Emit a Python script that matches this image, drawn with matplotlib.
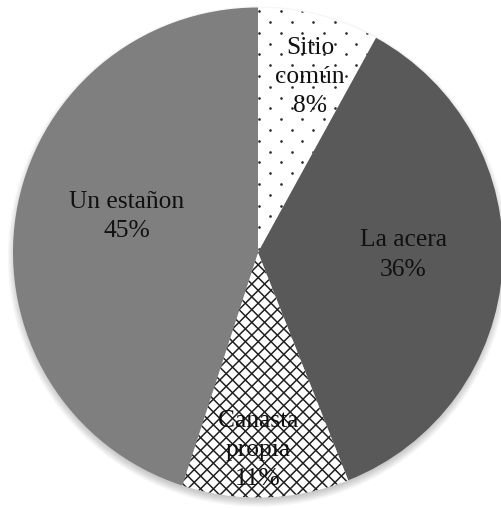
import matplotlib
matplotlib.use("Agg")
import matplotlib.pyplot as plt
from matplotlib.collections import LineCollection
import numpy as np

# Where the collected material is left
categories = ["Sitio\ncomún", "La acera", "Canasta\npropia", "Un estañon"]
percentages = [8, 36, 11, 45]

fills = ["white", "#595959", "white", "#7f7f7f"]
patterns = ["dots", None, "cross", None]

plt.rcParams["font.family"] = ["Liberation Serif", "DejaVu Serif"]

W, H, DPI = 501, 508, 72
fig = plt.figure(figsize=(W / DPI, H / DPI), dpi=DPI)
ax = fig.add_axes([0, 0, 1, 1])

cx, cy, R = 258, H - 252.5, 245

# soft shadow under the pie
for k in range(7):
    sh = plt.Circle((cx, cy - 4), R - 2 + k * 1.2, color="black",
                    alpha=0.03, lw=0, zorder=0)
    ax.add_patch(sh)

wedges, _ = ax.pie(percentages, colors=fills, startangle=90, counterclock=False,
                   center=(cx, cy), radius=R,
                   wedgeprops=dict(linewidth=0))
for w in wedges:
    w.set_zorder(2)


def dot_fill(wedge, pitch_x=21.6, pitch_y=10.8):
    pts = []
    for row, y in enumerate(np.arange(0, H + pitch_y, pitch_y)):
        off = (row % 2) * pitch_x / 2
        for x in np.arange(off, W + pitch_x, pitch_x):
            pts.append((x, y))
    pts = np.array(pts)
    sc = ax.scatter(pts[:, 0], pts[:, 1], s=7, c="#2a2a2a", lw=0, zorder=3)
    sc.set_clip_path(wedge)


def cross_fill(wedge, pitch=12.8):
    segs = []
    for c in np.arange(-H - W, W + H, pitch):
        segs.append([(c, 0), (c + H, H)])
        segs.append([(c, 0), (c - H, H)])
    lc = LineCollection(segs, colors="#1e1e1e", linewidths=1.5, zorder=3)
    ax.add_collection(lc)
    lc.set_clip_path(wedge)


for w, p in zip(wedges, patterns):
    if p == "dots":
        dot_fill(w)
    elif p == "cross":
        cross_fill(w)

# label placement: (radius fraction, angle shift in degrees)
placement = [(0.747, -2.1), (0.592, 2.6), (0.806, -1.8), (0.554, -6.2)]
for w, cat, pct, (rf, shift) in zip(wedges, categories, percentages, placement):
    mid = np.deg2rad((w.theta1 + w.theta2) / 2 + shift)
    x = cx + rf * R * np.cos(mid)
    y = cy + rf * R * np.sin(mid)
    ax.text(x, y, f"{cat}\n{pct}%", ha="center", va="center", fontsize=25.5,
            color="#111111", linespacing=1.42, zorder=5)

ax.set_xlim(0, W)
ax.set_ylim(0, H)
ax.set_aspect("auto")
ax.axis("off")

fig.savefig("out.png", dpi=DPI)
